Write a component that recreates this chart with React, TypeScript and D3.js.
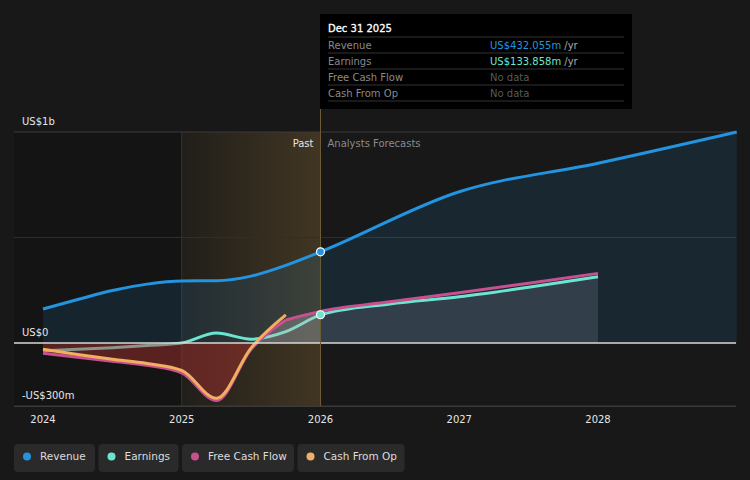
import React from "react";
import * as d3 from "d3";

const revenueDates = [2024, 2024.25, 2024.5, 2024.75, 2025, 2025.25, 2025.5, 2025.75, 2026, 2027, 2028, 2029];
const revenueValues = [161, 206, 249, 279, 294, 295, 317, 368, 432, 717, 852, 1000];

const earningsDates = [2024, 2024.25, 2024.5, 2024.75, 2025, 2025.25, 2025.5, 2025.75, 2026, 2026.5, 2027, 2027.5, 2028];
const earningsValues = [-36, -30, -22, -12, 0, 47, 18, 54, 133, 185, 219, 264, 314];

const fcfPastDates = [2024, 2024.25, 2024.5, 2024.75, 2025, 2025.25, 2025.5, 2025.75];
const fcfPastValues = [-49, -68, -87, -106, -142, -273, -30, 109];
const fcfForecastDates = [2025.75, 2026, 2026.5, 2027, 2027.5, 2028];
const fcfForecastValues = [109, 150, 195, 238, 283, 330];

const cfoDates = [2024, 2024.25, 2024.5, 2024.75, 2025, 2025.25, 2025.5, 2025.75];
const cfoValues = [-30, -55, -77, -97, -130, -262, -23, 133];

const xTicks = [2024, 2025, 2026, 2027, 2028];
const yTicks = [
  { v: 1000, label: "US$1b" },
  { v: 0, label: "US$0" },
  { v: -300, label: "-US$300m" },
];

const legendItems = [
  { name: "Revenue", color: "#2394df" },
  { name: "Earnings", color: "#6ce5d0" },
  { name: "Free Cash Flow", color: "#c8508f" },
  { name: "Cash From Op", color: "#f0b060" },
];

const tooltipRows = [
  { label: "Revenue", value: "US$432.055m", color: "#2394df", unit: " /yr" },
  { label: "Earnings", value: "US$133.858m", color: "#6ce5d0", unit: " /yr" },
  { label: "Free Cash Flow", value: "No data", color: "#5a5a5a", unit: "" },
  { label: "Cash From Op", value: "No data", color: "#5a5a5a", unit: "" },
];

type P = [number, number];
const zip = (a: number[], b: number[]): P[] => a.map((d, i) => [d, b[i]]);

export default function App() {
  const W = 750, H = 480;
  const x = d3.scaleLinear().domain([2024, 2029]).range([43, 736.75]);
  const y = d3.scaleLinear().domain([-300, 1000]).range([406.3, 132]);
  const left = 14, right = 736;

  const line = d3.line<P>().x(d => x(d[0])).y(d => y(d[1])).curve(d3.curveMonotoneX);
  const area = d3.area<P>().x(d => x(d[0])).y0(y(0)).y1(d => y(d[1])).curve(d3.curveMonotoneX);

  const rev = zip(revenueDates, revenueValues);
  const earn = zip(earningsDates, earningsValues);
  const earnF = earn.filter(d => d[0] >= 2026);
  const fcfP = zip(fcfPastDates, fcfPastValues);
  const fcfF = zip(fcfForecastDates, fcfForecastValues);
  const fcfAll = fcfP.concat(fcfF.slice(1, 2));
  const cfo = zip(cfoDates, cfoValues);

  const font = "'DejaVu Sans', sans-serif";
  const x25 = x(2025), x26 = x(2026);

  let lx = 14;
  const legendW = [81, 80, 112, 107];

  return (
    <svg width={W} height={H} style={{ position: "absolute", left: 0, top: 0, display: "block" }} fontFamily={font}>
      <defs>
        <linearGradient id="pastGrad" x1="0" x2="1" y1="0" y2="0">
          <stop offset="0%" stopColor="rgb(170,130,60)" stopOpacity={0.06} />
          <stop offset="100%" stopColor="rgb(170,130,60)" stopOpacity={0.28} />
        </linearGradient>
        <clipPath id="neg">
          <rect x={0} y={y(0)} width={W} height={H} />
        </clipPath>
        <clipPath id="pos">
          <rect x={0} y={0} width={W} height={y(0)} />
        </clipPath>
      </defs>
      <rect x={0} y={0} width={W} height={H} fill="#181818" />
      <rect x={left} y={y(1000)} width={x25 - left} height={y(-300) - y(1000)} fill="#000" opacity={0.15} />
      <rect x={x25} y={y(1000)} width={x26 - x25} height={y(-300) - y(1000)} fill="url(#pastGrad)" />
      <line x1={x25} x2={x25} y1={y(1000)} y2={y(-300)} stroke="#3a3528" strokeWidth={1} />

      {/* gridlines */}
      <line x1={left} x2={right} y1={y(1000)} y2={y(1000)} stroke="#3a3a3a" />
      <line x1={left} x2={right} y1={y(500)} y2={y(500)} stroke="#2e2e2e" />
      <line x1={left} x2={right} y1={y(-300)} y2={y(-300)} stroke="#3a3a3a" strokeWidth={1.5} />

      {/* revenue + earnings */}
      <path d={area(rev) || ""} fill="#2394df" opacity={0.13} />
      <path d={area(earnF) || ""} fill="#b8bcd0" opacity={0.16} />
      <path d={line(rev) || ""} fill="none" stroke="#2394df" strokeWidth={3} />
      <path d={line(earn) || ""} fill="none" stroke="#6ce5d0" strokeWidth={3} />

      {/* FCF area over earnings */}
      <path d={area(fcfAll) || ""} fill="#b03030" opacity={0.45} clipPath="url(#neg)" />
      <path d={area(fcfAll) || ""} fill="#c8b8b8" opacity={0.3} clipPath="url(#pos)" />

      {/* FCF + CFO lines */}
      <path d={line(fcfP) || ""} fill="none" stroke="#c8508f" strokeWidth={3} />
      <path d={line(fcfF) || ""} fill="none" stroke="#c8508f" strokeWidth={3} />
      <path d={line(cfo) || ""} fill="none" stroke="#f0b060" strokeWidth={3} />

      {/* zero line */}
      <line x1={left} x2={right} y1={y(0)} y2={y(0)} stroke="#d8d8d8" strokeWidth={1.5} />

      {/* current marker line */}
      <line x1={x26} x2={x26} y1={109} y2={y(-300)} stroke="#6b5a33" strokeWidth={1} />
      <circle cx={x26} cy={y(432)} r={4} fill="#2394df" stroke="#fff" strokeWidth={1.2} />
      <circle cx={x26} cy={y(133.858)} r={4} fill="#6ce5d0" stroke="#fff" strokeWidth={1.2} />

      <text x={x26 - 7} y={146.5} fontSize={10} fill="#e6e6e6" textAnchor="end">Past</text>
      <text x={x26 + 7} y={146.5} fontSize={10} fill="#8a8a8a">Analysts Forecasts</text>

      {yTicks.map(t => (
        <text key={t.label} x={22} y={y(t.v) - 7} fontSize={10} fill="#e6e6e6">{t.label}</text>
      ))}
      {xTicks.map(t => (
        <text key={t} x={x(t)} y={423} fontSize={10} fill="#e6e6e6" textAnchor="middle">{t}</text>
      ))}

      {/* tooltip */}
      <rect x={320} y={14} width={312} height={95} fill="#000" />
      <text x={328} y={32} fontSize={10} fill="#fff" stroke="#fff" strokeWidth={0.3}>Dec 31 2025</text>
      {tooltipRows.map((r, i) => (
        <g key={r.label}>
          <line x1={328} x2={624} y1={37 + i * 16} y2={37 + i * 16} stroke="#333" />
          <text x={328} y={49 + i * 16} fontSize={10} fill="#8a8a8a">{r.label}</text>
          <text x={490} y={49 + i * 16} fontSize={10} fill={r.color}>
            {r.value}
            <tspan fill="#aaa">{r.unit}</tspan>
          </text>
        </g>
      ))}
      <line x1={328} x2={624} y1={101} y2={101} stroke="#333" />

      {/* legend */}
      {legendItems.map((it, i) => {
        const bx = lx;
        lx += legendW[i] + 3.5;
        return (
          <g key={it.name}>
            <rect x={bx} y={444} width={legendW[i]} height={28} rx={4} fill="#2a2a2a" />
            <circle cx={bx + 13} cy={456.5} r={4} fill={it.color} />
            <text x={bx + 26} y={460} fontSize={10.5} fill="#dcdcdc">{it.name}</text>
          </g>
        );
      })}
    </svg>
  );
}
